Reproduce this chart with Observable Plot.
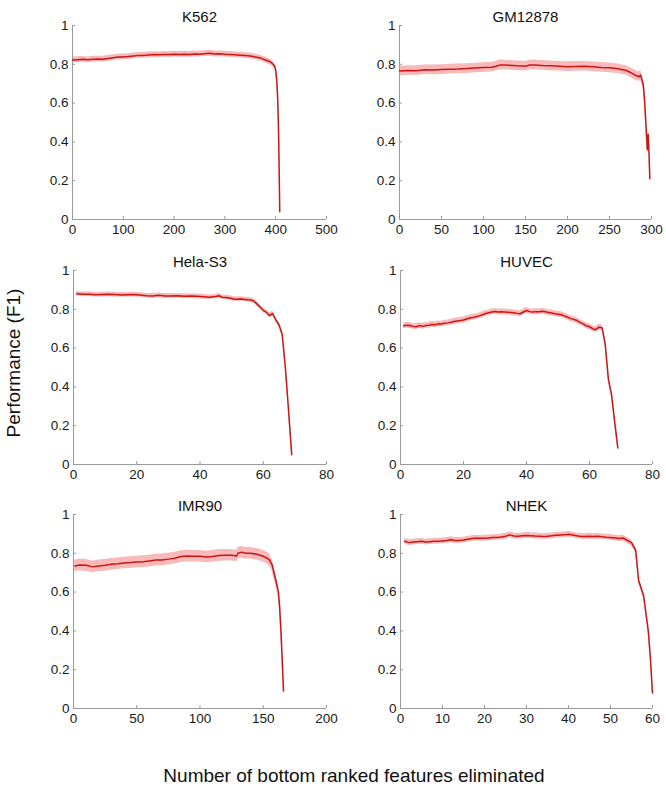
<!DOCTYPE html>
<html><head><meta charset="utf-8">
<script src="https://cdn.jsdelivr.net/npm/d3@7"></script>
<script src="https://cdn.jsdelivr.net/npm/@observablehq/plot@0.6"></script>
<style>
body{margin:0;background:#fff;font-family:"Liberation Sans",Arial,sans-serif;}
#wrap{position:relative;width:666px;height:791px;overflow:hidden;}
.panel{position:absolute;}
.ylab{position:absolute;left:14px;top:363px;transform:translate(-50%,-50%) rotate(-90deg);font-size:19px;white-space:nowrap;color:#111;}
.xlab{position:absolute;left:354px;top:776px;transform:translate(-50%,-50%);font-size:19px;white-space:nowrap;color:#111;}
</style></head>
<body>
<div id="wrap">
<div class="ylab">Performance (F1)</div>
<div class="xlab">Number of bottom ranked features eliminated</div>
</div>
<script>
// ---- data ----
const titles = ["K562","GM12878","Hela-S3","HUVEC","IMR90","NHEK"];
const yTicks = [0,0.2,0.4,0.6,0.8,1];
const xMax = [500,300,80,80,200,60];
const xTicksK562 = [0,100,200,300,400,500];
const xTicksGM12878 = [0,50,100,150,200,250,300];
const xTicksHela = [0,20,40,60,80];
const xTicksHUVEC = [0,20,40,60,80];
const xTicksIMR90 = [0,50,100,150,200];
const xTicksNHEK = [0,10,20,30,40,50,60];
const sdBand = [0.015,0.025,0.012,0.015,0.03,0.015];

const k562X = [0,10,20,30,40,50,60,70,80,90,100,110,120,130,140,150,160,170,180,190,200,210,220,230,240,250,260,270,280,290,300,310,320,330,340,350,360,370,380,390,395,398,400,402,404,405,406,407,408];
const k562Y = [.822,.824,.826,.823,.826,.827,.826,.830,.834,.838,.838,.840,.843,.846,.846,.848,.850,.849,.851,.850,.852,.851,.852,.851,.853,.852,.855,.857,.853,.854,.852,.851,.849,.847,.845,.843,.838,.832,.822,.812,.80,.79,.77,.72,.62,.52,.40,.22,.04];

const gmX = [0,10,20,30,40,50,60,70,80,90,100,110,115,120,125,130,140,150,155,160,170,180,190,200,210,220,230,240,250,260,270,275,280,283,285,287,288,290,291,292,293,294,295,296,297,298];
const gmY = [.765,.768,.767,.772,.771,.773,.775,.776,.778,.781,.783,.785,.790,.797,.796,.795,.792,.790,.796,.797,.794,.792,.790,.788,.789,.790,.787,.784,.782,.777,.768,.758,.745,.740,.735,.745,.730,.700,.660,.600,.520,.440,.360,.440,.350,.210];

const helaX = [1,3,5,7,9,11,13,15,17,19,21,23,25,27,29,31,33,35,37,39,41,43,45,46,47,49,51,53,55,56,57,58,59,60,61,62,63,64,65,66,67,68,69];
const helaY = [.880,.877,.878,.875,.876,.877,.876,.874,.875,.876,.874,.870,.869,.872,.869,.868,.870,.867,.868,.867,.865,.862,.866,.870,.862,.860,.852,.853,.849,.848,.843,.828,.812,.795,.785,.768,.778,.745,.720,.670,.500,.280,.050];

const huvecX = [1,2,3,4,5,6,7,8,9,10,11,12,13,14,15,16,17,18,19,20,21,22,23,24,25,26,27,28,29,30,31,32,33,34,35,36,37,38,39,40,41,42,43,44,45,46,47,48,49,50,51,52,53,54,55,56,57,58,59,60,61,62,63,64,65,66,67,68,69];
const huvecY = [.715,.718,.716,.712,.710,.716,.712,.716,.718,.722,.720,.725,.724,.728,.730,.733,.737,.740,.742,.745,.750,.755,.758,.762,.766,.772,.778,.782,.786,.789,.786,.787,.786,.785,.784,.782,.779,.777,.786,.794,.788,.786,.788,.787,.790,.787,.783,.781,.777,.775,.772,.766,.760,.752,.748,.742,.733,.725,.715,.710,.700,.695,.708,.705,.620,.440,.360,.220,.085];

const imrX = [1,5,10,15,20,25,30,35,40,45,50,55,60,65,70,75,80,85,90,95,100,105,110,115,120,125,129,130,133,136,140,145,150,153,155,157,158.5,160,162,163,164,165,166];
const imrY = [.735,.740,.738,.730,.735,.738,.743,.746,.750,.752,.755,.757,.760,.765,.766,.770,.775,.783,.786,.785,.785,.781,.784,.789,.790,.790,.786,.800,.806,.800,.800,.795,.785,.775,.765,.740,.700,.660,.600,.520,.400,.250,.090];

const nhekX = [1,2,3,4,5,6,7,8,9,10,11,12,13,14,15,16,17,18,19,20,21,22,23,24,25,26,27,28,29,30,31,32,33,34,35,36,37,38,39,40,41,42,43,44,45,46,47,48,49,50,51,52,53,54,55,56,56.7,57.9,59,59.5,60];
const nhekY = [.862,.855,.858,.860,.862,.858,.860,.862,.862,.864,.866,.870,.866,.866,.868,.872,.876,.878,.877,.878,.879,.881,.882,.884,.888,.895,.889,.888,.890,.892,.891,.889,.888,.887,.888,.890,.893,.894,.895,.898,.894,.890,.887,.886,.888,.887,.888,.885,.883,.882,.879,.876,.879,.866,.855,.815,.660,.580,.400,.260,.080];

const seriesX = [k562X, gmX, helaX, huvecX, imrX, nhekX];
const seriesY = [k562Y, gmY, helaY, huvecY, imrY, nhekY];
const xTicks = [xTicksK562, xTicksGM12878, xTicksHela, xTicksHUVEC, xTicksIMR90, xTicksNHEK];

// ---- layout ----
const layout = [
  {left:0, top:0, ml:72, mr:7},
  {left:333, top:0, ml:66, mr:15},
  {left:0, top:245, ml:73, mr:7},
  {left:333, top:245, ml:67, mr:14},
  {left:0, top:489, ml:73, mr:7},
  {left:333, top:489, ml:67, mr:14}
];

const wrap = document.getElementById("wrap");
titles.forEach((title, i) => {
  const data = seriesX[i].map((x, j) => ({x, y: seriesY[i][j]}));
  const sd = sdBand[i];
  const L = layout[i];
  const chart = Plot.plot({
    width: 333, height: 249,
    marginTop: 25, marginBottom: 30, marginLeft: L.ml, marginRight: L.mr,
    style: {fontFamily: "'Liberation Sans', Arial, sans-serif", fontSize: "13px", color: "#1a1a1a", background: "transparent", overflow: "visible"},
    x: {domain: [0, xMax[i]]},
    y: {domain: [0, 1]},
    marks: [
      Plot.areaY(data, {x: "x", y1: d => d.y - sd, y2: d => d.y + sd, fill: "#f08080", fillOpacity: 0.55}),
      Plot.ruleY([0], {stroke: "#9a9a9a"}),
      Plot.ruleX([0], {stroke: "#9a9a9a"}),
      Plot.axisX({ticks: xTicks[i], tickFormat: d => String(d), tickSize: -3, tickPadding: 8, stroke: "#9a9a9a", fill: "#1a1a1a", label: null, fontSize: 13.5}),
      Plot.axisY({ticks: yTicks, tickFormat: d => String(d), tickSize: -3, tickPadding: 7, stroke: "#9a9a9a", fill: "#1a1a1a", label: null, fontSize: 13.5}),
      Plot.lineY(data, {x: "x", y: "y", stroke: "#cc1515", strokeWidth: 1.5}),
      Plot.text([title], {frameAnchor: "top", dy: -14, fontSize: 15, fontWeight: "normal", fill: "#111"})
    ]
  });
  const div = document.createElement("div");
  div.className = "panel";
  div.style.left = L.left + "px";
  div.style.top = L.top + "px";
  div.appendChild(chart);
  wrap.appendChild(div);
});
</script>
</body></html>
